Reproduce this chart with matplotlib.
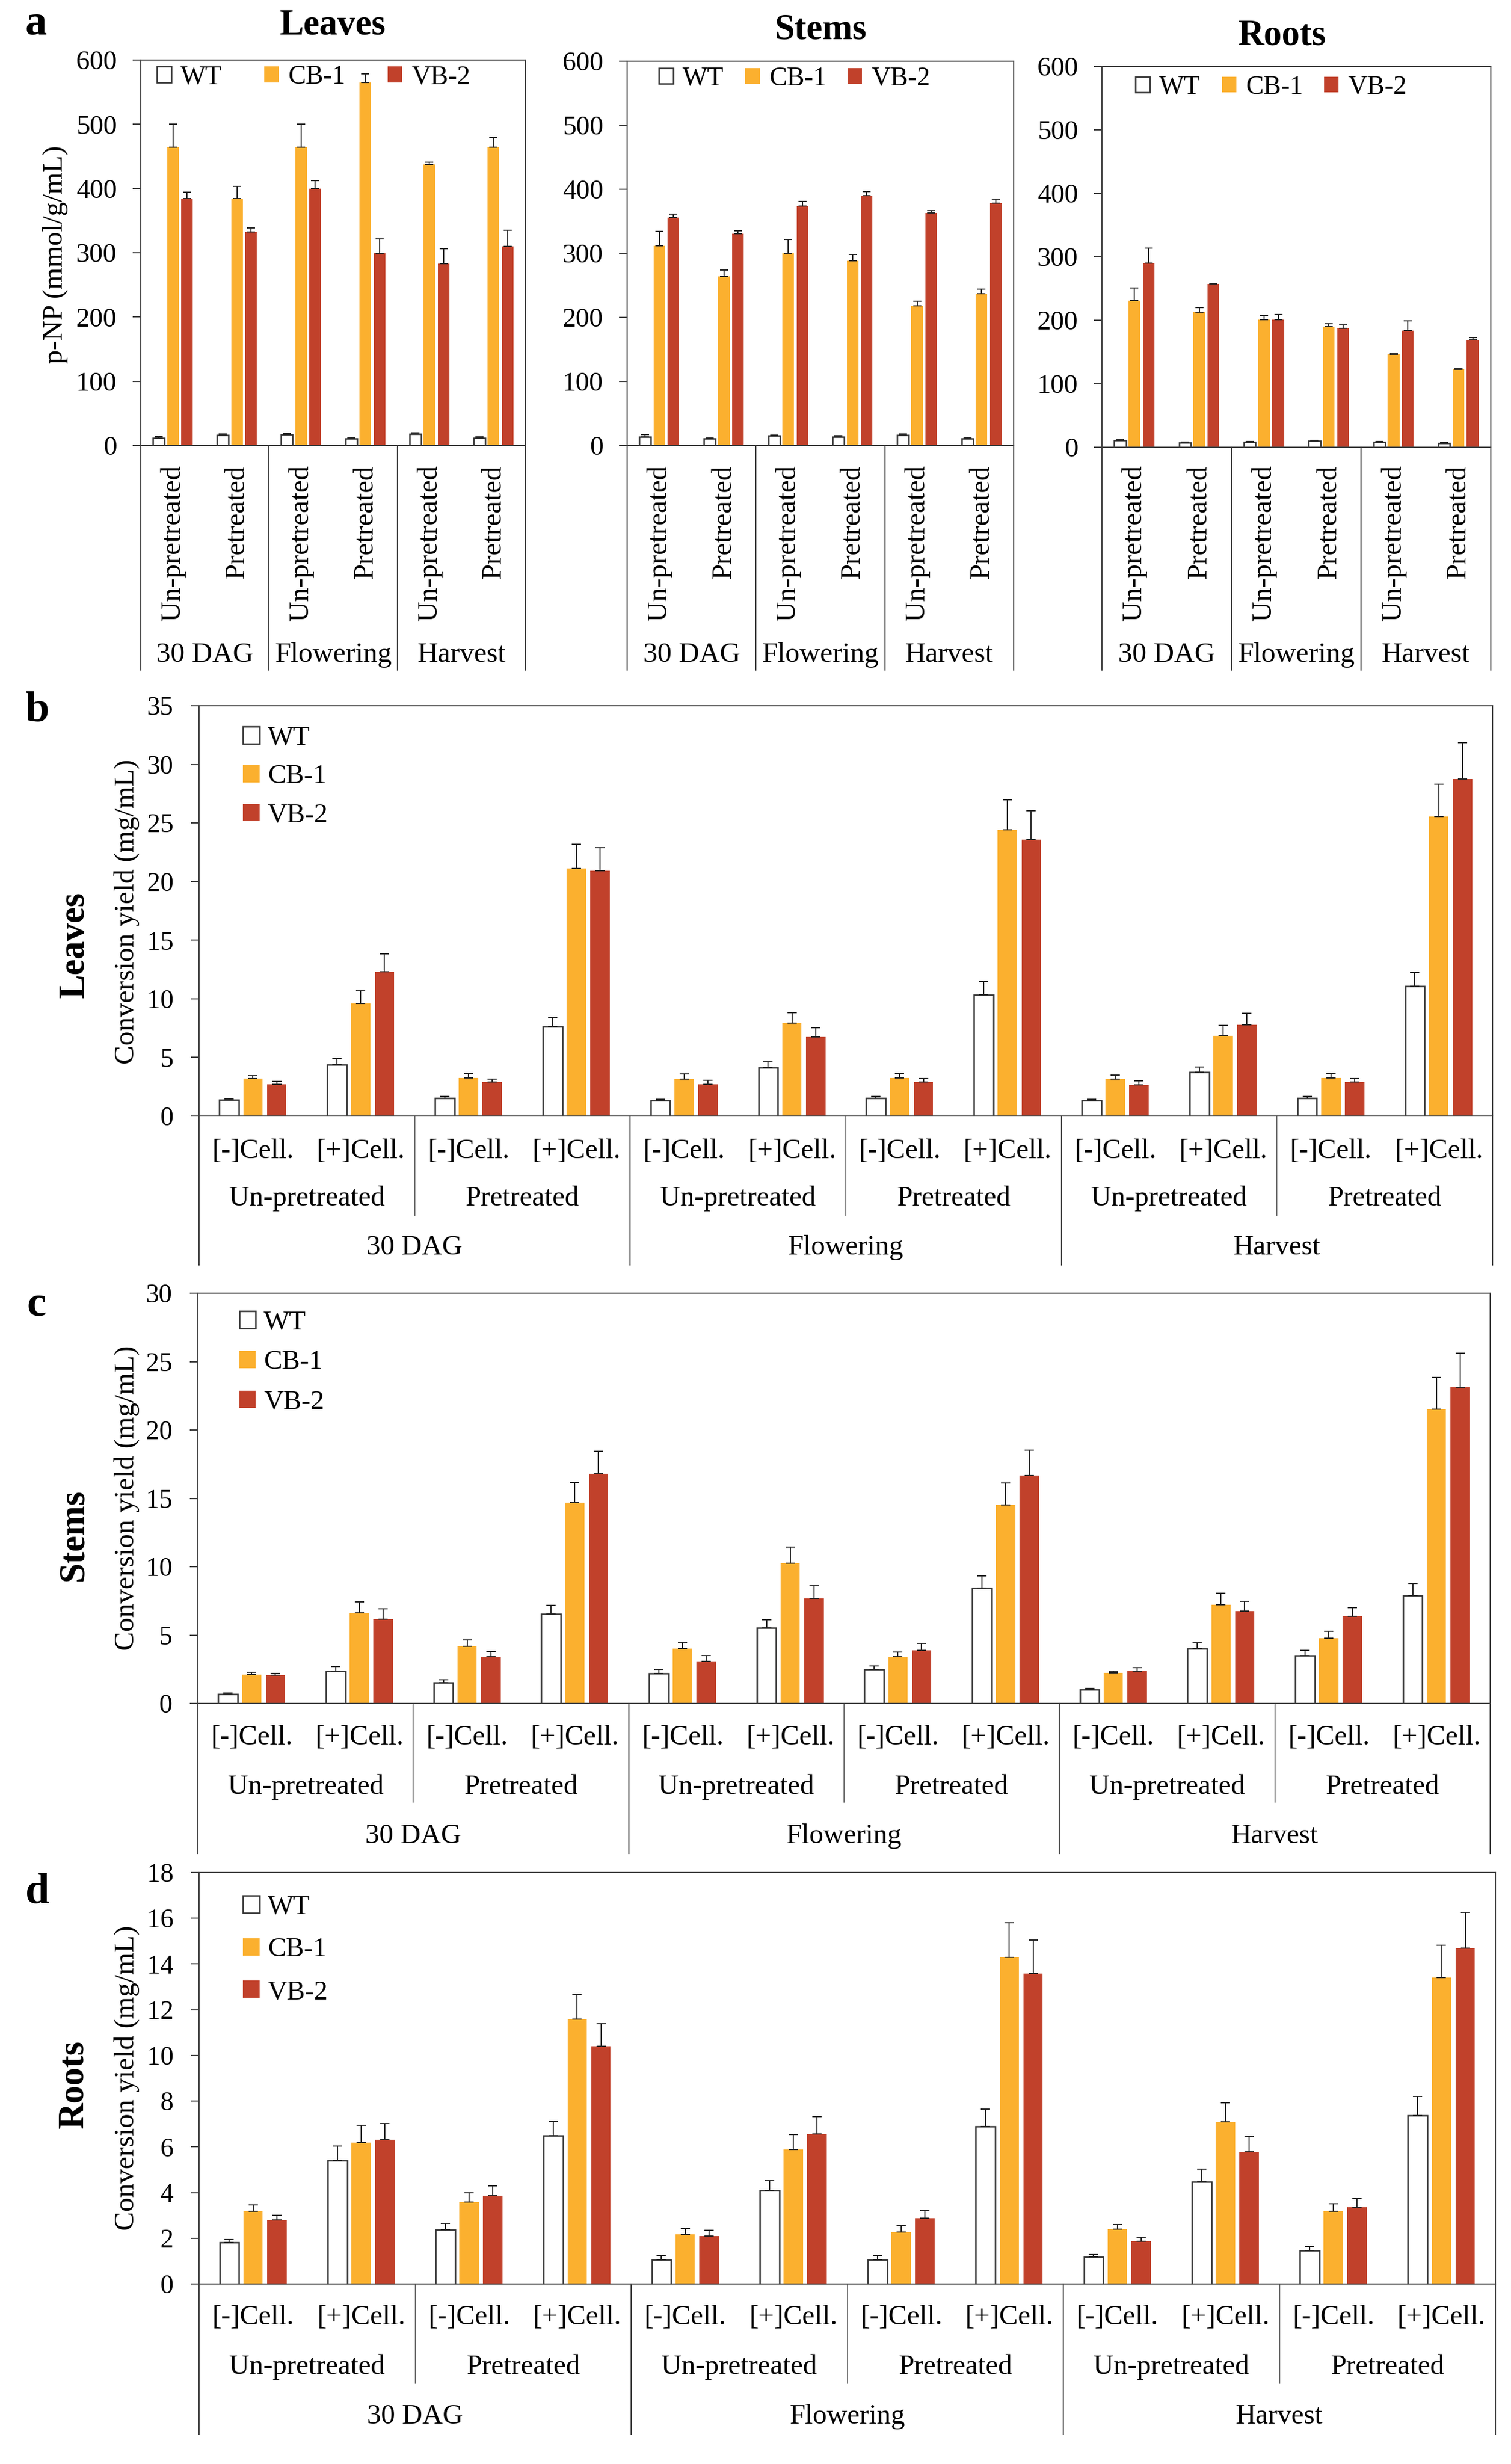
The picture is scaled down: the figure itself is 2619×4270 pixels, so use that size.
import matplotlib
matplotlib.use('Agg')
import matplotlib.pyplot as plt
import matplotlib.transforms as mtransforms
from matplotlib.lines import Line2D
import numpy as np

plt.rcParams['font.family'] = ['Liberation Serif', 'DejaVu Serif']

W, H = 2619, 4270
DPI = 100

# ---------------- data ----------------
series = ['WT', 'CB-1', 'VB-2']
stages = ['30 DAG', 'Flowering', 'Harvest']
treatments = ['Un-pretreated', 'Pretreated']
cells = ['[-]Cell.', '[+]Cell.']

# panel a : p-NP (mmol/g/mL); order: stage x treatment
a_leaves_wt = [12, 16, 17, 11, 18, 12]
a_leaves_wt_err = [2, 2, 2, 1.5, 2, 1.5]
a_leaves_cb = [464, 384, 464, 565, 437, 464]
a_leaves_cb_err = [36, 19, 36, 13, 4, 16]
a_leaves_vb = [384, 332, 400, 299, 283, 310]
a_leaves_vb_err = [10, 7, 12, 23, 23, 25]

a_stems_wt = [13.6, 10.9, 15, 13.6, 16.4, 10.9]
a_stems_wt_err = [3.5, 1, 1.5, 1.5, 1.5, 1.5]
a_stems_cb = [312, 264, 300, 288, 218, 237]
a_stems_cb_err = [22, 10, 22, 10, 7, 7]
a_stems_vb = [356, 331, 374, 390, 363, 378]
a_stems_vb_err = [5, 4, 7, 6, 4, 7]

a_roots_wt = [11, 7, 8, 10, 8, 6]
a_roots_wt_err = [1, 1, 1, 1, 1, 1]
a_roots_cb = [231, 213, 201, 190, 146, 123]
a_roots_cb_err = [20, 7, 6, 5, 1.5, 1]
a_roots_vb = [290, 257, 201, 187, 184, 169]
a_roots_vb_err = [24, 1, 8, 6, 15, 4]

# panels b-d : conversion yield (mg/mL); order: stage x treatment x cellulase
b_wt = [1.36, 4.4, 1.55, 7.64, 1.33, 4.14, 1.52, 10.36, 1.33, 3.75, 1.52, 11.1]
b_wt_err = [0.1, 0.5, 0.13, 0.77, 0.1, 0.49, 0.13, 1.13, 0.1, 0.42, 0.13, 1.17]
b_cb = [3.2, 9.6, 3.24, 21.1, 3.17, 7.93, 3.27, 24.4, 3.17, 6.86, 3.27, 25.57]
b_cb_err = [0.25, 1.1, 0.4, 2.1, 0.42, 0.9, 0.35, 2.6, 0.33, 0.87, 0.35, 2.75]
b_vb = [2.69, 12.3, 2.9, 20.9, 2.69, 6.73, 2.91, 23.56, 2.65, 7.77, 2.91, 28.74]
b_vb_err = [0.26, 1.55, 0.27, 2.0, 0.35, 0.8, 0.29, 2.5, 0.33, 0.97, 0.29, 3.1]

c_wt = [0.69, 2.38, 1.52, 6.54, 2.19, 5.51, 2.49, 8.42, 1.02, 3.99, 3.52, 7.89]
c_wt_err = [0.06, 0.33, 0.2, 0.63, 0.28, 0.61, 0.25, 0.92, 0.06, 0.44, 0.36, 0.89]
c_cb = [2.13, 6.62, 4.18, 14.7, 3.99, 10.25, 3.41, 14.5, 2.22, 7.2, 4.76, 21.5]
c_cb_err = [0.14, 0.8, 0.47, 1.45, 0.47, 1.19, 0.36, 1.6, 0.14, 0.86, 0.53, 2.33]
c_vb = [2.05, 6.18, 3.41, 16.79, 3.1, 7.7, 3.9, 16.68, 2.38, 6.73, 6.37, 23.13]
c_vb_err = [0.14, 0.75, 0.39, 1.66, 0.42, 0.89, 0.48, 1.85, 0.22, 0.75, 0.64, 2.47]

d_wt = [1.81, 5.39, 2.38, 6.49, 1.07, 4.08, 1.07, 6.89, 1.19, 4.48, 1.47, 7.38]
d_wt_err = [0.13, 0.65, 0.27, 0.64, 0.17, 0.44, 0.17, 0.75, 0.1, 0.54, 0.17, 0.82]
d_cb = [3.18, 6.19, 3.58, 11.58, 2.16, 5.87, 2.28, 14.3, 2.39, 7.09, 3.18, 13.4]
d_cb_err = [0.28, 0.74, 0.42, 1.1, 0.27, 0.67, 0.27, 1.5, 0.2, 0.84, 0.32, 1.42]
d_vb = [2.79, 6.31, 3.86, 10.39, 2.09, 6.57, 2.88, 13.58, 1.87, 5.79, 3.35, 14.69]
d_vb_err = [0.22, 0.72, 0.44, 1.0, 0.25, 0.74, 0.33, 1.47, 0.17, 0.68, 0.38, 1.57]

# ---------------- style ----------------
face = ['white', '#FBB02F', '#C1412B']
edge = ['#333333', '#FBB02F', '#C1412B']
edge_lw = [1.8, 0, 0]
frame_c = '#404040'

fig = plt.figure(figsize=(W / DPI, H / DPI), dpi=DPI)
fig.patch.set_facecolor('white')


def fy(py):
    return 1 - py / H


def make_ax(l, r, t, b):
    return fig.add_axes([l / W, 1 - b / H, (r - l) / W, (b - t) / H])


def style_ax(ax, n, ylim, yticks, fs, pad):
    ax.set_xlim(-0.5, n - 0.5)
    ax.set_ylim(*ylim)
    ax.set_yticks(yticks)
    ax.set_yticklabels([str(t) for t in yticks])
    ax.set_xticks([])
    for s in ax.spines.values():
        s.set_color(frame_c)
        s.set_linewidth(1.5)
    ax.tick_params(axis='y', direction='out', length=10, width=1.5,
                   color=frame_c, labelsize=fs, pad=pad)


def draw_bars(ax, vals, errs, width=0.18, step=0.22, capsize=5):
    n = len(vals[0])
    x = np.arange(n)
    handles = []
    for k in range(3):
        xs = x + (k - 1) * step
        h = ax.bar(xs, vals[k], width, color=face[k], edgecolor=edge[k],
                   linewidth=edge_lw[k], label=series[k], zorder=2)
        handles.append(h)
        ax.errorbar(xs, vals[k], yerr=[np.zeros(n), errs[k]], fmt='none',
                    ecolor='#222222', elinewidth=1.4, capsize=capsize,
                    capthick=1.4, zorder=3)
    return handles


def vline(ax, x, y0, y1, color=frame_c, lw=1.5):
    trans = mtransforms.blended_transform_factory(ax.transData, fig.transFigure)
    ln = Line2D([x, x], [fy(y0), fy(y1)], transform=trans, color=color,
                lw=lw, clip_on=False)
    ax.add_line(ln)


def ctext(ax, x, py, s, fs, **kw):
    trans = mtransforms.blended_transform_factory(ax.transData, fig.transFigure)
    ax.text(x, fy(py), s, transform=trans, fontsize=fs, clip_on=False, **kw)


# ---------------- panel a ----------------
a_specs = [
    ('Leaves', (244, 911, 104, 772), 577, 45,
     [a_leaves_wt, a_leaves_cb, a_leaves_vb],
     [a_leaves_wt_err, a_leaves_cb_err, a_leaves_vb_err],
     (0.042, 0.987), 1.6),
    ('Stems', (1087, 1757, 106, 772), 1422, 52,
     [a_stems_wt, a_stems_cb, a_stems_vb],
     [a_stems_wt_err, a_stems_cb_err, a_stems_vb_err],
     (0.082, 0.986), 0.8),
    ('Roots', (1910, 2584, 115, 775), 2222, 63,
     [a_roots_wt, a_roots_cb, a_roots_vb],
     [a_roots_wt_err, a_roots_cb_err, a_roots_vb_err],
     (0.086, 0.977), 0.8),
]

fs_a = 35.5
for i, (title, (l, r, t, b), tx, ty, vals, errs, lpos, colsp) in enumerate(a_specs):
    ax = make_ax(l, r, t, b)
    style_ax(ax, 6, (0, 600), [0, 100, 200, 300, 400, 500, 600], 34, 20)
    hs = draw_bars(ax, vals, errs, capsize=5)
    ax.legend(hs, series, loc='upper left', bbox_to_anchor=lpos, ncol=3,
              frameon=False, fontsize=33, handlelength=0.55,
              handleheight=0.55, handletextpad=0.35, columnspacing=colsp,
              borderaxespad=0, borderpad=0)
    fig.text(tx / W, fy(ty), title, ha='center', va='center', fontsize=45,
             fontweight='bold')
    # category labels
    k = 0
    for s_i, st in enumerate(stages):
        for tr in treatments:
            ctext(ax, k, 806, tr, 35, rotation=90, ha='center', va='top')
            k += 1
        ctext(ax, 2 * s_i + 0.5, 1135, st, fs_a, ha='center', va='center')
    for xd in [-0.5, 1.5, 3.5, 5.5]:
        vline(ax, xd, b, 1161)
    if i == 0:
        ax.set_ylabel('p-NP (mmol/g/mL)', fontsize=35)
        ax.yaxis.set_label_coords((118 - l) / (r - l), 1 - (441 - t) / (b - t))

fig.text(62 / W, fy(41), 'a', ha='center', va='center', fontsize=54,
         fontweight='bold')

# ---------------- panels b-d ----------------
bd_specs = [
    ('b', 'Leaves', (345, 2587, 1223, 1934), (0, 35), [0, 5, 10, 15, 20, 25, 30, 35],
     [b_wt, b_cb, b_vb], [b_wt_err, b_cb_err, b_vb_err],
     (1995, 2077, 2162, 2106, 2192), (65, 1232), (130, 1637), (242, 1580),
     (0.034, 0.951), 0.52),
    ('c', 'Stems', (343, 2583, 2241, 2952), (0, 30), [0, 5, 10, 15, 20, 25, 30],
     [c_wt, c_cb, c_vb], [c_wt_err, c_cb_err, c_vb_err],
     (3011, 3097, 3182, 3123, 3212), (63, 2262), (128, 2660), (242, 2596),
     (0.032, 0.958), 0.56),
    ('d', 'Roots', (345, 2592, 3245, 3958), (0, 18), [0, 2, 4, 6, 8, 10, 12, 14, 16, 18],
     [d_wt, d_cb, d_vb], [d_wt_err, d_cb_err, d_vb_err],
     (4016, 4102, 4188, 4130, 4218), (65, 3279), (128, 3612), (242, 3601),
     (0.034, 0.945), 0.66),
]

fs_b = 35
for (letter, organ, (l, r, t, b), ylim, yticks, vals, errs, rows, lpos_letter,
     lpos_organ, lpos_ylab, legpos, lsp) in bd_specs:
    ax = make_ax(l, r, t, b)
    style_ax(ax, 12, ylim, yticks, 33, 22)
    hs = draw_bars(ax, vals, errs, capsize=5.5)
    ax.legend(hs, series, loc='upper left', bbox_to_anchor=legpos, ncol=1,
              frameon=False, fontsize=34, handlelength=0.6, handleheight=0.6,
              handletextpad=0.3, labelspacing=lsp, borderaxespad=0, borderpad=0)
    r1, r2, r3, sub_b, grp_b = rows
    k = 0
    for s_i, st in enumerate(stages):
        for t_i, tr in enumerate(treatments):
            for ce in cells:
                ctext(ax, k, r1, ce, fs_b, ha='center', va='center')
                k += 1
            ctext(ax, 4 * s_i + 2 * t_i + 0.5, r2, tr, fs_b, ha='center', va='center')
        ctext(ax, 4 * s_i + 1.5, r3, st, fs_b, ha='center', va='center')
    for xd in [1.5, 5.5, 9.5]:
        vline(ax, xd, b, sub_b, color='#666666', lw=1.3)
    for xd in [-0.5, 3.5, 7.5, 11.5]:
        vline(ax, xd, b, grp_b)
    ax.set_ylabel('Conversion yield (mg/mL)', fontsize=35.5)
    ax.yaxis.set_label_coords((lpos_ylab[0] - l) / (r - l),
                              1 - (lpos_ylab[1] - t) / (b - t))
    fig.text(lpos_letter[0] / W, fy(lpos_letter[1]), letter, ha='center',
             va='center', fontsize=54, fontweight='bold')
    fig.text(lpos_organ[0] / W, fy(lpos_organ[1]), organ, ha='center',
             va='center', fontsize=45, fontweight='bold', rotation=90)

fig.savefig('out.png', dpi=DPI, facecolor='white')
